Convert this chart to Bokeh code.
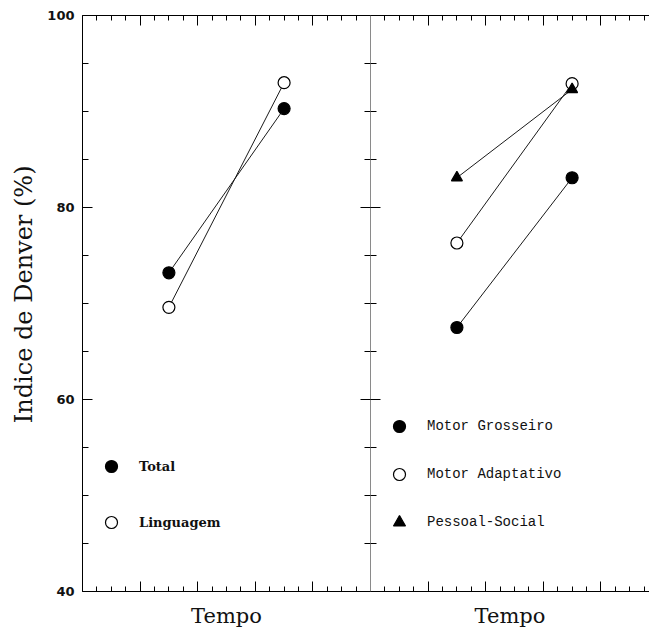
from bokeh.plotting import figure
from bokeh.models import LinearAxis, FixedTicker, Range1d, Legend, LegendItem, Title
from bokeh.layouts import row
from bokeh.embed import file_html
from bokeh.resources import INLINE

# ---- data ----
tempo = [1.5, 3.5]
total = [73.2, 90.3]
linguagem = [69.6, 93.0]
motor_grosseiro = [67.5, 83.1]
motor_adaptativo = [76.3, 92.9]
pessoal_social = [83.1, 92.3]

y_ticks = [40, 60, 80, 100]
y_minor = [40, 45, 50, 55, 60, 65, 70, 75, 80, 85, 90, 95, 100]
x_ticks = [1, 2, 3, 4]
x_minor = [0.25, 0.5, 0.75, 1.25, 1.5, 1.75, 2.25, 2.5, 2.75,
           3.25, 3.5, 3.75, 4.25, 4.5, 4.75]

y_label = "Indice de Denver (%)"
x_label = "Tempo"

FRAME_COLOR = "black"
DIVIDER = "#8a8a8a"


def hide_labels(ax, ticks):
    ax.major_label_overrides = {t: "" for t in ticks}
    ax.major_label_text_font_size = "0px"
    ax.major_label_standoff = 0
    ax.major_tick_out = 0
    ax.minor_tick_out = 0


def x_axis(p, side, label=None):
    ax = LinearAxis(ticker=FixedTicker(ticks=x_ticks, minor_ticks=x_minor))
    hide_labels(ax, x_ticks)
    ax.major_tick_in = 10
    ax.minor_tick_in = 5
    ax.axis_line_color = FRAME_COLOR
    ax.major_tick_line_color = "black"
    ax.minor_tick_line_color = "black"
    if label:
        ax.axis_label = label
        ax.axis_label_text_font = "DejaVu Serif"
        ax.axis_label_text_font_size = "21px"
        ax.axis_label_text_font_style = "normal"
        ax.axis_label_text_color = "#111111"
        ax.axis_label_standoff = 12
    p.add_layout(ax, side)
    return ax


def y_axis(p, side, line_color, labels=False):
    ax = LinearAxis(ticker=FixedTicker(ticks=y_ticks, minor_ticks=y_minor))
    ax.major_tick_in = 10
    ax.minor_tick_in = 6
    ax.major_tick_out = 0
    ax.minor_tick_out = 0
    ax.axis_line_color = line_color
    ax.major_tick_line_color = "black"
    ax.minor_tick_line_color = "black"
    if labels:
        ax.major_label_text_font = "DejaVu Sans"
        ax.major_label_text_font_style = "bold"
        ax.major_label_text_font_size = "13px"
        ax.major_label_text_color = "#111111"
        ax.major_label_standoff = 8
    else:
        hide_labels(ax, y_ticks)
    p.add_layout(ax, side)
    return ax


def make_fig(width, xmax, border_left):
    p = figure(width=width, height=631,
               x_range=Range1d(0, xmax), y_range=Range1d(40, 100),
               x_axis_type=None, y_axis_type=None,
               output_backend="svg", toolbar_location=None,
               min_border_left=border_left, min_border_right=0,
               min_border_top=15, min_border_bottom=40)
    p.outline_line_color = None
    p.background_fill_color = "white"
    p.border_fill_color = "white"
    return p


def series(p, ys, marker, fill, size):
    p.line(tempo, ys, line_color="#1a1a1a", line_width=1)
    return p.scatter(tempo, ys, marker=marker, size=size,
                     fill_color=fill, line_color="black", line_width=1.2)


def legend(p, items, spacing, font, style, size):
    leg = Legend(items=[LegendItem(label=l, renderers=[r]) for l, r in items],
                 location=(14, 54), orientation="vertical",
                 padding=0, margin=0, spacing=spacing,
                 glyph_width=30, glyph_height=30, label_standoff=13,
                 border_line_color=None, background_fill_alpha=0,
                 label_text_font=font, label_text_font_style=style,
                 label_text_font_size=size, label_text_color="#111111")
    p.add_layout(leg)


# ---- left panel ----
p1 = make_fig(370, 5, 82)
r_tot = series(p1, total, "circle", "black", 12)
r_lin = series(p1, linguagem, "circle", "white", 12)
x_axis(p1, "below", x_label)
x_axis(p1, "above")
y_axis(p1, "left", FRAME_COLOR, labels=True)
y_axis(p1, "right", None)
p1.add_layout(Title(text=y_label, align="right", offset=150,
                    vertical_align="middle", standoff=12,
                    text_font="DejaVu Serif", text_font_size="24px",
                    text_font_style="normal", text_color="#111111"), "left")
legend(p1, [("Total", r_tot), ("Linguagem", r_lin)], 26,
       "DejaVu Serif", "bold", "13px")

# ---- right panel ----
p2 = make_fig(279, 279 / 57.6, 0)
r_mg = series(p2, motor_grosseiro, "circle", "black", 12)
r_ma = series(p2, motor_adaptativo, "circle", "white", 12)
r_ps = series(p2, pessoal_social, "triangle", "black", 11)
x_axis(p2, "below", x_label)
x_axis(p2, "above")
y_axis(p2, "left", DIVIDER)
legend(p2, [("Motor Grosseiro", r_mg), ("Motor Adaptativo", r_ma),
            ("Pessoal-Social", r_ps)], 18,
       "Liberation Mono", "normal", "14px")

layout = row(p1, p2)
open("out.html", "w").write(file_html(layout, INLINE))
